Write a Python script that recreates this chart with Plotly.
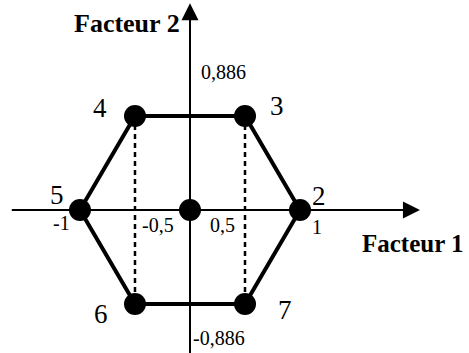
import plotly.graph_objects as go

# Doehlert design in two factors: centre point plus six hexagon vertices
point_ids = ["1", "2", "3", "4", "5", "6", "7"]
factor1 = [0.0, 1.0, 0.5, -0.5, -1.0, -0.5, 0.5]
factor2 = [0.0, 0.0, 0.886, 0.886, 0.0, -0.886, -0.886]

# order of vertices around the hexagon
hex_order = ["5", "4", "3", "2", "7", "6", "5"]
# vertical dashed guides joining top and bottom vertices
dash_pairs = [("4", "6"), ("3", "7")]

# axis tick labels
x_tick_vals = [-1.0, -0.5, 0.5, 1.0]
x_tick_text = ["-1", "-0,5", "0,5", "1"]
y_tick_vals = [0.886, -0.886]
y_tick_text = ["0,886", "-0,886"]

axis1_title = "Facteur 1"
axis2_title = "Facteur 2"

pos = {k: (x, y) for k, x, y in zip(point_ids, factor1, factor2)}

W, H = 469, 353
X_RANGE = [-1.727, 2.536]
Y_RANGE = [-1.349, 1.981]

fig = go.Figure()

# axes drawn as arrows through the origin
fig.add_shape(type="line", x0=-1.62, y0=0, x1=2.0, y1=0,
              line=dict(color="black", width=2))
fig.add_annotation(x=2.09, y=0, ax=1.8, ay=0, xref="x", yref="y",
                   axref="x", ayref="y", text="", showarrow=True,
                   arrowhead=2, arrowsize=1.7, arrowwidth=2, arrowcolor="black")
fig.add_shape(type="line", x0=0, y0=-1.36, x1=0, y1=1.85,
              line=dict(color="black", width=2))
fig.add_annotation(x=0, y=1.95, ax=0, ay=1.65, xref="x", yref="y",
                   axref="x", ayref="y", text="", showarrow=True,
                   arrowhead=2, arrowsize=1.7, arrowwidth=2, arrowcolor="black")

# dashed verticals
for a, b in dash_pairs:
    fig.add_trace(go.Scatter(
        x=[pos[a][0], pos[b][0]], y=[pos[a][1], pos[b][1]], mode="lines",
        line=dict(color="black", width=2.5, dash="5px,4px"),
        hoverinfo="skip", showlegend=False))

# hexagon outline
fig.add_trace(go.Scatter(
    x=[pos[k][0] for k in hex_order], y=[pos[k][1] for k in hex_order],
    mode="lines", line=dict(color="black", width=4),
    hoverinfo="skip", showlegend=False))

# experimental points
fig.add_trace(go.Scatter(
    x=factor1, y=factor2, mode="markers",
    marker=dict(color="black", size=22),
    showlegend=False))

serif = "Liberation Serif, Times New Roman, serif"

# point numbers (centre point unlabelled)
label_shift = {"2": (19, 14), "3": (32, 10), "4": (-35, 8),
               "5": (-23, 15), "6": (-34, -10), "7": (40, -6)}
for k in point_ids:
    if k not in label_shift:
        continue
    dx, dy = label_shift[k]
    fig.add_annotation(x=pos[k][0], y=pos[k][1], text=k, showarrow=False,
                       xshift=dx, yshift=dy,
                       font=dict(family=serif, size=27, color="black"))

# tick labels on the factor 1 axis
x_tick_shift = [(-18, -13), (23, -15), (-23, -15), (17, -17)]
for v, t, (dx, dy) in zip(x_tick_vals, x_tick_text, x_tick_shift):
    fig.add_annotation(x=v, y=0, text=t, showarrow=False, xshift=dx, yshift=dy,
                       font=dict(family=serif, size=20, color="black"))

# tick labels on the factor 2 axis
y_tick_shift = [(9, 44), (1, -34)]
for v, t, (dx, dy) in zip(y_tick_vals, y_tick_text, y_tick_shift):
    fig.add_annotation(x=0, y=v, text=t, showarrow=False, xanchor="left",
                       xshift=dx, yshift=dy,
                       font=dict(family=serif, size=20, color="black"))

# axis titles
fig.add_annotation(x=2.09, y=0, text="<b>" + axis1_title + "</b>",
                   showarrow=False, xanchor="left", xshift=-60, yshift=-33,
                   font=dict(family=serif, size=25, color="black"))
fig.add_annotation(x=0, y=1.93, text="<b>" + axis2_title + "</b>",
                   showarrow=False, xanchor="right", xshift=-8, yshift=-18,
                   font=dict(family=serif, size=26, color="black"))

fig.update_layout(
    width=W, height=H,
    margin=dict(l=0, r=0, t=0, b=0),
    paper_bgcolor="white", plot_bgcolor="white",
    xaxis=dict(range=X_RANGE, visible=False, fixedrange=True),
    yaxis=dict(range=Y_RANGE, visible=False, fixedrange=True),
)

fig.write_html("out.html")
